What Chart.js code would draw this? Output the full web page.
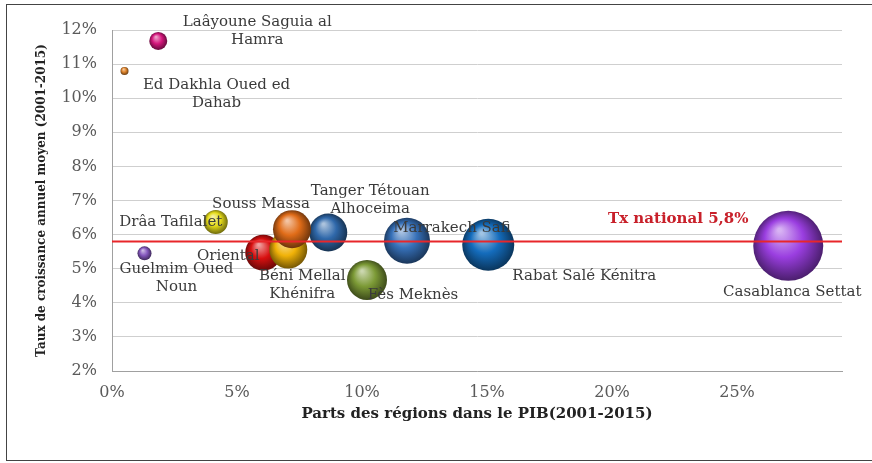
<!DOCTYPE html>
<html>
<head>
<meta charset="utf-8">
<script src="https://cdn.jsdelivr.net/npm/chart.js@4.4.1/dist/chart.umd.min.js"></script>
<style>
  html, body { margin: 0; background: #fff; overflow: hidden; }
  #cadre { position: absolute; left: 6px; top: 4px; width: 900px; height: 455px; border: 1px solid #444; pointer-events: none; }
  canvas { position: absolute; left: 0; top: 0; }
</style>
</head>
<body>
<canvas id="bulles" width="872" height="463"></canvas>
<div id="cadre"></div>
<script>
// regions, dans l'ordre de dessin (les dernieres passent devant)
var regions = [
  'Ed Dakhla Oued ed\nDahab',
  'Laâyoune Saguia al\nHamra',
  'Guelmim Oued\nNoun',
  'Drâa Tafilalet',
  'Oriental',
  'Béni Mellal\nKhénifra',
  'Tanger Tétouan\nAlhoceima',
  'Souss Massa',
  'Fès Meknès',
  'Marrakech Safi',
  'Rabat Salé Kénitra',
  'Casablanca Settat'
];
// part dans le PIB (%)
var partsPIB = [0.5, 1.85, 1.3, 4.15, 6.05, 7.05, 8.65, 7.2, 10.2, 11.8, 15.05, 27.05];
// taux de croissance annuel moyen (%)
var croissance = [10.8, 11.68, 5.45, 6.37, 5.47, 5.56, 6.06, 6.16, 4.67, 5.82, 5.7, 5.67];
// taille des bulles
var taille = [4, 9, 7, 12, 18, 19, 19, 19, 20, 23, 26, 35];
var couleurs = ['#e0842a', '#d4177c', '#8457bd', '#e6dc1a', '#d81010', '#f0b208', '#2f68aa',
  '#e06c18', '#7c9a36', '#3670b8', '#146cbc', '#9a3ee0'];
var tauxNational = 5.8;
var xMax = 29.2;

// position des etiquettes par rapport au centre de la bulle
var decalages = [[92, 14], [99, -19], [32, 16], [-45, 0], [-35, 3], [14, 27], [42, -41],
  [-31, -25], [46, 15], [45, -13], [96, 31], [4, 46]];

function teinte(hex, f) {
  var n = parseInt(hex.slice(1), 16);
  var r = (n >> 16) & 255, g = (n >> 8) & 255, b = n & 255;
  if (f > 0) {
    r = r + (255 - r) * f; g = g + (255 - g) * f; b = b + (255 - b) * f;
  } else {
    r = r * (1 + f); g = g * (1 + f); b = b * (1 + f);
  }
  return 'rgb(' + Math.round(r) + ',' + Math.round(g) + ',' + Math.round(b) + ')';
}

function degrade(ctx) {
  var chart = ctx.chart;
  var base = couleurs[ctx.dataIndex];
  if (!chart.chartArea || !ctx.raw) return base;
  var px = chart.scales.x.getPixelForValue(ctx.raw.x);
  var py = chart.scales.y.getPixelForValue(ctx.raw.y);
  var r = ctx.raw.r;
  var g = chart.ctx.createRadialGradient(px - r * 0.25, py - r * 0.45, r * 0.05, px, py, r * 1.05);
  g.addColorStop(0, teinte(base, 0.6));
  g.addColorStop(0.5, base);
  g.addColorStop(1, teinte(base, -0.55));
  return g;
}

var pointsBulles = [];
for (let i = 0; i < regions.length; i++) {
  pointsBulles.push({ x: partsPIB[i], y: croissance[i], r: taille[i] });
}

var etiquettes = {
  id: 'etiquettes',
  afterDatasetsDraw(chart) {
    const ctx = chart.ctx;
    const meta = chart.getDatasetMeta(1);
    ctx.save();
    ctx.font = '15px "DejaVu Serif"';
    ctx.fillStyle = '#3a3a3a';
    ctx.textAlign = 'center';
    ctx.textBaseline = 'middle';
    meta.data.forEach(function (pt, i) {
      const lignes = regions[i].split('\n');
      lignes.forEach(function (l, k) {
        ctx.fillText(l, pt.x + decalages[i][0], pt.y + decalages[i][1] + k * 18);
      });
    });
    ctx.font = 'bold 15px "DejaVu Serif"';
    ctx.fillStyle = '#c8202a';
    ctx.fillText('Tx national 5,8%', chart.scales.x.getPixelForValue(22.65),
      chart.scales.y.getPixelForValue(tauxNational) - 22);
    ctx.restore();
  }
};

new Chart(document.getElementById('bulles'), {
  type: 'bubble',
  data: {
    datasets: [
      {
        type: 'line',
        data: [{ x: 0, y: tauxNational }, { x: xMax, y: tauxNational }],
        borderColor: '#e8262a',
        borderWidth: 2,
        pointRadius: 0,
        order: 0
      },
      {
        data: pointsBulles,
        backgroundColor: degrade,
        borderWidth: 0,
        order: 1
      }
    ]
  },
  options: {
    responsive: false,
    animation: false,
    layout: { autoPadding: false, padding: { left: 0, top: 30, right: 30, bottom: 0 } },
    plugins: { legend: { display: false }, tooltip: { enabled: false } },
    scales: {
      x: {
        type: 'linear',
        min: 0, max: xMax,
        afterFit: function (s) { s.height = 92; s.paddingLeft = 0; s.paddingRight = 0; },
        grid: { display: false },
        border: { color: '#a0a0a0' },
        ticks: {
          stepSize: 5, includeBounds: false, padding: 4,
          color: '#5a5a5a', font: { family: 'DejaVu Serif', size: 16 },
          callback: function (v) { return v + '%'; }
        },
        title: {
          display: true, text: 'Parts des régions dans le PIB(2001-2015)',
          color: '#222', font: { family: 'DejaVu Serif', size: 15, weight: 'bold' },
          padding: { top: 4, bottom: 40 }
        }
      },
      y: {
        type: 'linear',
        min: 2, max: 12,
        afterFit: function (s) { s.width = 112; s.paddingTop = 0; s.paddingBottom = 0; },
        grid: { color: '#cfcfcf', drawTicks: false },
        border: { color: '#a0a0a0' },
        ticks: {
          stepSize: 1, padding: 15,
          color: '#5a5a5a', font: { family: 'DejaVu Serif', size: 16 },
          callback: function (v) { return v + '%'; }
        },
        title: {
          display: true, text: 'Taux de croissance annuel moyen (2001-2015)',
          color: '#222', font: { family: 'DejaVu Serif', size: 12, weight: 'bold' },
          padding: { top: 35, bottom: 0 }
        }
      }
    }
  },
  plugins: [etiquettes]
});
</script>
</body>
</html>
